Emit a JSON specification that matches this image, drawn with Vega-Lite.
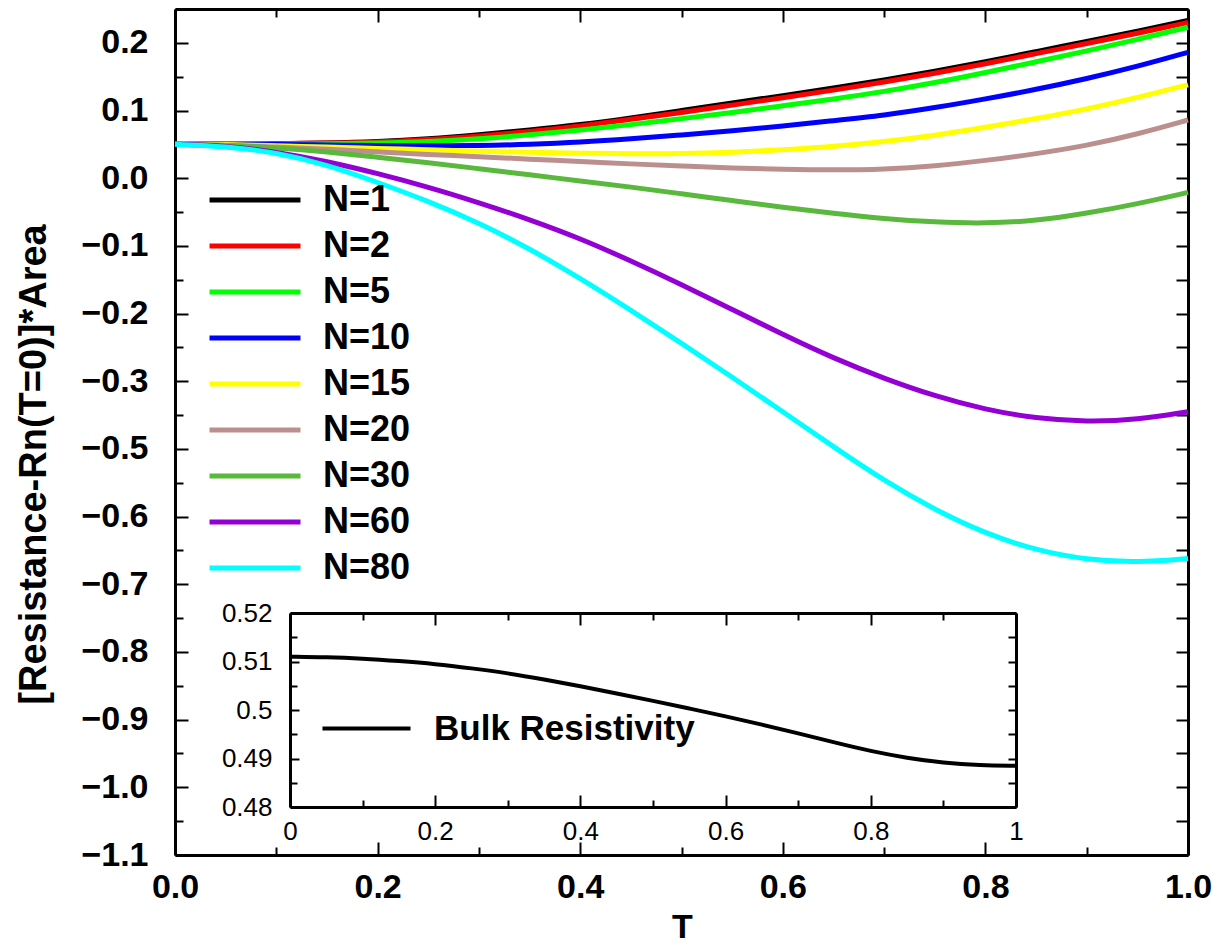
{
  "$schema": "https://vega.github.io/schema/vega-lite/v6.json",
  "width": 1013,
  "height": 846,
  "autosize": {"type": "none"},
  "padding": {"left": 175, "top": 9, "right": 27, "bottom": 91},
  "background": "white",
  "config": {
    "view": {"stroke": null},
    "axis": {"grid": false, "domainColor": "black", "tickColor": "black", "labelColor": "black", "titleColor": "black"}
  },
  "datasets": {
    "main": [
      {"T":0,"v":0.050,"N":"N=1"},{"T":0.05,"v":0.050,"N":"N=1"},{"T":0.1,"v":0.051,"N":"N=1"},{"T":0.15,"v":0.052,"N":"N=1"},{"T":0.2,"v":0.054,"N":"N=1"},{"T":0.25,"v":0.058,"N":"N=1"},{"T":0.3,"v":0.064,"N":"N=1"},{"T":0.35,"v":0.071,"N":"N=1"},{"T":0.4,"v":0.079,"N":"N=1"},{"T":0.45,"v":0.089,"N":"N=1"},{"T":0.5,"v":0.100,"N":"N=1"},{"T":0.55,"v":0.111,"N":"N=1"},{"T":0.6,"v":0.122,"N":"N=1"},{"T":0.65,"v":0.133,"N":"N=1"},{"T":0.7,"v":0.145,"N":"N=1"},{"T":0.75,"v":0.158,"N":"N=1"},{"T":0.8,"v":0.172,"N":"N=1"},{"T":0.85,"v":0.187,"N":"N=1"},{"T":0.9,"v":0.202,"N":"N=1"},{"T":0.95,"v":0.217,"N":"N=1"},{"T":1.0,"v":0.233,"N":"N=1"},
      {"T":0,"v":0.050,"N":"N=2"},{"T":0.05,"v":0.050,"N":"N=2"},{"T":0.1,"v":0.051,"N":"N=2"},{"T":0.15,"v":0.052,"N":"N=2"},{"T":0.2,"v":0.053,"N":"N=2"},{"T":0.25,"v":0.057,"N":"N=2"},{"T":0.3,"v":0.062,"N":"N=2"},{"T":0.35,"v":0.069,"N":"N=2"},{"T":0.4,"v":0.077,"N":"N=2"},{"T":0.45,"v":0.087,"N":"N=2"},{"T":0.5,"v":0.097,"N":"N=2"},{"T":0.55,"v":0.108,"N":"N=2"},{"T":0.6,"v":0.119,"N":"N=2"},{"T":0.65,"v":0.130,"N":"N=2"},{"T":0.7,"v":0.142,"N":"N=2"},{"T":0.75,"v":0.155,"N":"N=2"},{"T":0.8,"v":0.169,"N":"N=2"},{"T":0.85,"v":0.184,"N":"N=2"},{"T":0.9,"v":0.199,"N":"N=2"},{"T":0.95,"v":0.214,"N":"N=2"},{"T":1.0,"v":0.230,"N":"N=2"},
      {"T":0,"v":0.050,"N":"N=5"},{"T":0.05,"v":0.050,"N":"N=5"},{"T":0.1,"v":0.050,"N":"N=5"},{"T":0.15,"v":0.051,"N":"N=5"},{"T":0.2,"v":0.052,"N":"N=5"},{"T":0.25,"v":0.054,"N":"N=5"},{"T":0.3,"v":0.058,"N":"N=5"},{"T":0.35,"v":0.064,"N":"N=5"},{"T":0.4,"v":0.071,"N":"N=5"},{"T":0.45,"v":0.079,"N":"N=5"},{"T":0.5,"v":0.088,"N":"N=5"},{"T":0.55,"v":0.097,"N":"N=5"},{"T":0.6,"v":0.107,"N":"N=5"},{"T":0.65,"v":0.117,"N":"N=5"},{"T":0.7,"v":0.128,"N":"N=5"},{"T":0.75,"v":0.141,"N":"N=5"},{"T":0.8,"v":0.156,"N":"N=5"},{"T":0.85,"v":0.172,"N":"N=5"},{"T":0.9,"v":0.188,"N":"N=5"},{"T":0.95,"v":0.205,"N":"N=5"},{"T":1.0,"v":0.223,"N":"N=5"},
      {"T":0,"v":0.050,"N":"N=10"},{"T":0.05,"v":0.050,"N":"N=10"},{"T":0.1,"v":0.050,"N":"N=10"},{"T":0.15,"v":0.049,"N":"N=10"},{"T":0.2,"v":0.048,"N":"N=10"},{"T":0.25,"v":0.048,"N":"N=10"},{"T":0.3,"v":0.048,"N":"N=10"},{"T":0.35,"v":0.050,"N":"N=10"},{"T":0.4,"v":0.053,"N":"N=10"},{"T":0.45,"v":0.058,"N":"N=10"},{"T":0.5,"v":0.064,"N":"N=10"},{"T":0.55,"v":0.070,"N":"N=10"},{"T":0.6,"v":0.077,"N":"N=10"},{"T":0.65,"v":0.085,"N":"N=10"},{"T":0.7,"v":0.093,"N":"N=10"},{"T":0.75,"v":0.104,"N":"N=10"},{"T":0.8,"v":0.117,"N":"N=10"},{"T":0.85,"v":0.131,"N":"N=10"},{"T":0.9,"v":0.147,"N":"N=10"},{"T":0.95,"v":0.165,"N":"N=10"},{"T":1.0,"v":0.186,"N":"N=10"},
      {"T":0,"v":0.050,"N":"N=15"},{"T":0.05,"v":0.050,"N":"N=15"},{"T":0.1,"v":0.048,"N":"N=15"},{"T":0.15,"v":0.046,"N":"N=15"},{"T":0.2,"v":0.044,"N":"N=15"},{"T":0.25,"v":0.042,"N":"N=15"},{"T":0.3,"v":0.040,"N":"N=15"},{"T":0.35,"v":0.038,"N":"N=15"},{"T":0.4,"v":0.037,"N":"N=15"},{"T":0.45,"v":0.036,"N":"N=15"},{"T":0.5,"v":0.036,"N":"N=15"},{"T":0.55,"v":0.038,"N":"N=15"},{"T":0.6,"v":0.042,"N":"N=15"},{"T":0.65,"v":0.047,"N":"N=15"},{"T":0.7,"v":0.054,"N":"N=15"},{"T":0.75,"v":0.063,"N":"N=15"},{"T":0.8,"v":0.075,"N":"N=15"},{"T":0.85,"v":0.088,"N":"N=15"},{"T":0.9,"v":0.102,"N":"N=15"},{"T":0.95,"v":0.119,"N":"N=15"},{"T":1.0,"v":0.138,"N":"N=15"},
      {"T":0,"v":0.050,"N":"N=20"},{"T":0.05,"v":0.049,"N":"N=20"},{"T":0.1,"v":0.046,"N":"N=20"},{"T":0.15,"v":0.043,"N":"N=20"},{"T":0.2,"v":0.039,"N":"N=20"},{"T":0.25,"v":0.035,"N":"N=20"},{"T":0.3,"v":0.032,"N":"N=20"},{"T":0.35,"v":0.028,"N":"N=20"},{"T":0.4,"v":0.025,"N":"N=20"},{"T":0.45,"v":0.021,"N":"N=20"},{"T":0.5,"v":0.018,"N":"N=20"},{"T":0.55,"v":0.015,"N":"N=20"},{"T":0.6,"v":0.013,"N":"N=20"},{"T":0.65,"v":0.012,"N":"N=20"},{"T":0.7,"v":0.013,"N":"N=20"},{"T":0.75,"v":0.018,"N":"N=20"},{"T":0.8,"v":0.026,"N":"N=20"},{"T":0.85,"v":0.036,"N":"N=20"},{"T":0.9,"v":0.048,"N":"N=20"},{"T":0.95,"v":0.065,"N":"N=20"},{"T":1.0,"v":0.086,"N":"N=20"},
      {"T":0,"v":0.050,"N":"N=30"},{"T":0.05,"v":0.049,"N":"N=30"},{"T":0.1,"v":0.045,"N":"N=30"},{"T":0.15,"v":0.039,"N":"N=30"},{"T":0.2,"v":0.031,"N":"N=30"},{"T":0.25,"v":0.023,"N":"N=30"},{"T":0.3,"v":0.014,"N":"N=30"},{"T":0.35,"v":0.005,"N":"N=30"},{"T":0.4,"v":-0.004,"N":"N=30"},{"T":0.45,"v":-0.013,"N":"N=30"},{"T":0.5,"v":-0.023,"N":"N=30"},{"T":0.55,"v":-0.033,"N":"N=30"},{"T":0.6,"v":-0.043,"N":"N=30"},{"T":0.65,"v":-0.052,"N":"N=30"},{"T":0.7,"v":-0.060,"N":"N=30"},{"T":0.75,"v":-0.065,"N":"N=30"},{"T":0.8,"v":-0.067,"N":"N=30"},{"T":0.85,"v":-0.063,"N":"N=30"},{"T":0.9,"v":-0.052,"N":"N=30"},{"T":0.95,"v":-0.038,"N":"N=30"},{"T":1.0,"v":-0.021,"N":"N=30"},
      {"T":0,"v":0.050,"N":"N=60"},{"T":0.05,"v":0.048,"N":"N=60"},{"T":0.1,"v":0.039,"N":"N=60"},{"T":0.15,"v":0.025,"N":"N=60"},{"T":0.2,"v":0.007,"N":"N=60"},{"T":0.25,"v":-0.013,"N":"N=60"},{"T":0.3,"v":-0.036,"N":"N=60"},{"T":0.35,"v":-0.061,"N":"N=60"},{"T":0.4,"v":-0.089,"N":"N=60"},{"T":0.45,"v":-0.122,"N":"N=60"},{"T":0.5,"v":-0.157,"N":"N=60"},{"T":0.55,"v":-0.194,"N":"N=60"},{"T":0.6,"v":-0.231,"N":"N=60"},{"T":0.65,"v":-0.266,"N":"N=60"},{"T":0.7,"v":-0.296,"N":"N=60"},{"T":0.75,"v":-0.322,"N":"N=60"},{"T":0.8,"v":-0.342,"N":"N=60"},{"T":0.85,"v":-0.355,"N":"N=60"},{"T":0.9,"v":-0.360,"N":"N=60"},{"T":0.95,"v":-0.357,"N":"N=60"},{"T":1.0,"v":-0.345,"N":"N=60"},
      {"T":0,"v":0.050,"N":"N=80"},{"T":0.05,"v":0.047,"N":"N=80"},{"T":0.1,"v":0.038,"N":"N=80"},{"T":0.15,"v":0.020,"N":"N=80"},{"T":0.2,"v":-0.006,"N":"N=80"},{"T":0.25,"v":-0.034,"N":"N=80"},{"T":0.3,"v":-0.066,"N":"N=80"},{"T":0.35,"v":-0.104,"N":"N=80"},{"T":0.4,"v":-0.148,"N":"N=80"},{"T":0.45,"v":-0.195,"N":"N=80"},{"T":0.5,"v":-0.244,"N":"N=80"},{"T":0.55,"v":-0.294,"N":"N=80"},{"T":0.6,"v":-0.345,"N":"N=80"},{"T":0.65,"v":-0.397,"N":"N=80"},{"T":0.7,"v":-0.447,"N":"N=80"},{"T":0.75,"v":-0.490,"N":"N=80"},{"T":0.8,"v":-0.525,"N":"N=80"},{"T":0.85,"v":-0.550,"N":"N=80"},{"T":0.9,"v":-0.564,"N":"N=80"},{"T":0.95,"v":-0.568,"N":"N=80"},{"T":1.0,"v":-0.562,"N":"N=80"}
    ],
    "bulk": [
      {"T":0,"rho":0.5110,"s":"Bulk Resistivity"},{"T":0.05,"rho":0.5109,"s":"Bulk Resistivity"},{"T":0.1,"rho":0.5106,"s":"Bulk Resistivity"},{"T":0.15,"rho":0.5101,"s":"Bulk Resistivity"},{"T":0.2,"rho":0.5095,"s":"Bulk Resistivity"},{"T":0.25,"rho":0.5086,"s":"Bulk Resistivity"},{"T":0.3,"rho":0.5076,"s":"Bulk Resistivity"},{"T":0.35,"rho":0.5063,"s":"Bulk Resistivity"},{"T":0.4,"rho":0.5049,"s":"Bulk Resistivity"},{"T":0.45,"rho":0.5034,"s":"Bulk Resistivity"},{"T":0.5,"rho":0.5019,"s":"Bulk Resistivity"},{"T":0.55,"rho":0.5003,"s":"Bulk Resistivity"},{"T":0.6,"rho":0.4987,"s":"Bulk Resistivity"},{"T":0.65,"rho":0.4970,"s":"Bulk Resistivity"},{"T":0.7,"rho":0.4952,"s":"Bulk Resistivity"},{"T":0.75,"rho":0.4933,"s":"Bulk Resistivity"},{"T":0.8,"rho":0.4915,"s":"Bulk Resistivity"},{"T":0.85,"rho":0.4901,"s":"Bulk Resistivity"},{"T":0.9,"rho":0.4891,"s":"Bulk Resistivity"},{"T":0.95,"rho":0.4886,"s":"Bulk Resistivity"},{"T":1.0,"rho":0.4885,"s":"Bulk Resistivity"}
    ]
  },
  "layer": [
    {
      "data": {"name": "main"},
      "mark": {"type": "line", "strokeWidth": 5, "interpolate": "basis"},
      "encoding": {
        "x": {"field": "T", "type": "quantitative",
          "scale": {"domain": [0, 1], "nice": false, "zero": false},
          "axis": {"orient": "bottom", "values": [0,0.1,0.2,0.3,0.4,0.5,0.6,0.7,0.8,0.9,1.0],
            "labelExpr": "round(datum.value*10)%2 != 0 ? '' : format(datum.value, '.1f')",
            "tickSize": {"condition": {"test": "round(datum.value*10)%2 != 0", "value": -8}, "value": -13},
            "tickWidth": 2, "domainWidth": 3,
            "labelFont": "Liberation Sans", "labelFontSize": 34, "labelFontWeight": "bold",
            "labelPadding": 28, "labelFlush": false, "labelOverlap": false,
            "title": "T", "titleFont": "Liberation Sans", "titleFontSize": 34, "titleFontWeight": "bold",
            "titleX": 507, "titleY": 55, "titleBaseline": "top", "titleAlign": "center"}},
        "y": {"field": "v", "type": "quantitative",
          "scale": {"domain": [-1.0, 0.25], "nice": false, "zero": false},
          "axis": {"orient": "left", "values": [-1.0,-0.95,-0.9,-0.85,-0.8,-0.75,-0.7,-0.65,-0.6,-0.55,-0.5,-0.45,-0.4,-0.35,-0.3,-0.25,-0.2,-0.15,-0.1,-0.05,0,0.05,0.1,0.15,0.2,0.25],
            "labelExpr": "round(datum.value*100)%10 != 0 ? '' : format(datum.value < -0.35 ? datum.value - 0.1 : datum.value, '.1f')",
            "tickSize": {"condition": {"test": "round(datum.value*100)%10 != 0", "value": -8}, "value": -13},
            "tickWidth": 2, "domainWidth": 3,
            "labelFont": "Liberation Sans", "labelFontSize": 34, "labelFontWeight": "bold",
            "labelPadding": 40, "labelOverlap": false, "labelFlush": false,
            "title": "[Resistance-Rn(T=0)]*Area", "titleFont": "Liberation Sans", "titleFontSize": 38, "titleFontWeight": "bold",
            "titleX": -141, "titleY": 455, "titleAngle": 270, "titleBaseline": "middle", "titleAlign": "center"}},
        "color": {"field": "N", "type": "nominal",
          "scale": {"domain": ["N=1","N=2","N=5","N=10","N=15","N=20","N=30","N=60","N=80"],
                    "range": ["#000000","#ff0000","#00ff00","#0000ff","#ffff00","#bc8f8f","#5ab83c","#9400d3","#00ffff"]},
          "legend": {"orient": "none", "legendX": 62, "legendY": 173, "title": null,
            "symbolType": "M-5,0H5", "symbolSize": 331, "symbolStrokeWidth": 5,
            "labelFont": "Liberation Sans", "labelFontSize": 36, "labelFontWeight": "bold", "labelColor": "black",
            "labelOffset": 50, "rowPadding": 10, "padding": 0}}
      }
    },
    {
      "data": {"name": "main"},
      "mark": {"type": "point", "opacity": 0},
      "encoding": {
        "x": {"field": "T", "type": "quantitative",
          "scale": {"domain": [0, 1], "nice": false, "zero": false},
          "axis": {"orient": "top", "values": [0,0.1,0.2,0.3,0.4,0.5,0.6,0.7,0.8,0.9,1.0], "labels": false, "title": null,
            "tickSize": {"condition": {"test": "round(datum.value*10)%2 != 0", "value": -8}, "value": -13},
            "tickWidth": 2, "domainWidth": 3}},
        "y": {"field": "v", "type": "quantitative",
          "scale": {"domain": [-1.0, 0.25], "nice": false, "zero": false},
          "axis": {"orient": "right", "values": [-1.0,-0.95,-0.9,-0.85,-0.8,-0.75,-0.7,-0.65,-0.6,-0.55,-0.5,-0.45,-0.4,-0.35,-0.3,-0.25,-0.2,-0.15,-0.1,-0.05,0,0.05,0.1,0.15,0.2,0.25],
            "labels": false, "title": null, "tickSize": -12, "tickWidth": 2, "domainWidth": 3}}
      }
    },
    {
      "data": {"name": "bulk"},
      "mark": {"type": "line", "strokeWidth": 4, "interpolate": "basis"},
      "encoding": {
        "x": {"field": "T", "type": "quantitative",
          "scale": {"domain": [0, 1], "range": [115, 841], "nice": false, "zero": false},
          "axis": {"orient": "bottom", "offset": -48, "values": [0,0.1,0.2,0.3,0.4,0.5,0.6,0.7,0.8,0.9,1.0],
            "labelExpr": "round(datum.value*10)%2 != 0 ? '' : format(datum.value, '~g')",
            "tickSize": {"condition": {"test": "round(datum.value*10)%2 != 0", "value": -7}, "value": -12},
            "tickWidth": 2, "domainWidth": 3,
            "labelFont": "Liberation Sans", "labelFontSize": 26, "labelPadding": 23, "labelFlush": false, "labelOverlap": false,
            "title": null}},
        "y": {"field": "rho", "type": "quantitative",
          "scale": {"domain": [0.48, 0.52], "range": [798, 604], "nice": false, "zero": false},
          "axis": {"orient": "left", "offset": -115, "values": [0.48,0.485,0.49,0.495,0.5,0.505,0.51,0.515,0.52],
            "labelExpr": "round(datum.value*1000)%10 != 0 ? '' : format(datum.value, '~g')",
            "tickSize": {"condition": {"test": "round(datum.value*1000)%10 != 0", "value": -7}, "value": -9},
            "tickWidth": 2, "domainWidth": 3,
            "labelFont": "Liberation Sans", "labelFontSize": 26, "labelPadding": 27, "labelFlush": false, "labelOverlap": false,
            "title": null}},
        "color": {"field": "s", "type": "nominal",
          "scale": {"domain": ["Bulk Resistivity"], "range": ["#000000"]},
          "legend": {"orient": "none", "legendX": 174, "legendY": 702, "title": null,
            "symbolType": "M-5,0H5", "symbolSize": 310, "symbolStrokeWidth": 4,
            "labelFont": "Liberation Sans", "labelFontSize": 35, "labelFontWeight": "bold", "labelColor": "black",
            "labelOffset": 50, "padding": 0, "labelLimit": 400}}
      }
    },
    {
      "data": {"name": "bulk"},
      "mark": {"type": "point", "opacity": 0},
      "encoding": {
        "x": {"field": "T", "type": "quantitative",
          "scale": {"domain": [0, 1], "range": [115, 841], "nice": false, "zero": false},
          "axis": {"orient": "top", "offset": -604, "values": [0,0.1,0.2,0.3,0.4,0.5,0.6,0.7,0.8,0.9,1.0], "labels": false, "title": null,
            "tickSize": {"condition": {"test": "round(datum.value*10)%2 != 0", "value": -7}, "value": -12},
            "tickWidth": 2, "domainWidth": 3}},
        "y": {"field": "rho", "type": "quantitative",
          "scale": {"domain": [0.48, 0.52], "range": [798, 604], "nice": false, "zero": false},
          "axis": {"orient": "right", "offset": -172, "values": [0.48,0.485,0.49,0.495,0.5,0.505,0.51,0.515,0.52],
            "labels": false, "title": null, "tickSize": -8, "tickWidth": 2, "domainWidth": 3}}
      }
    }
  ],
  "resolve": {
    "scale": {"x": "independent", "y": "independent", "color": "independent"},
    "axis": {"x": "independent", "y": "independent"},
    "legend": {"color": "independent"}
  }
}
